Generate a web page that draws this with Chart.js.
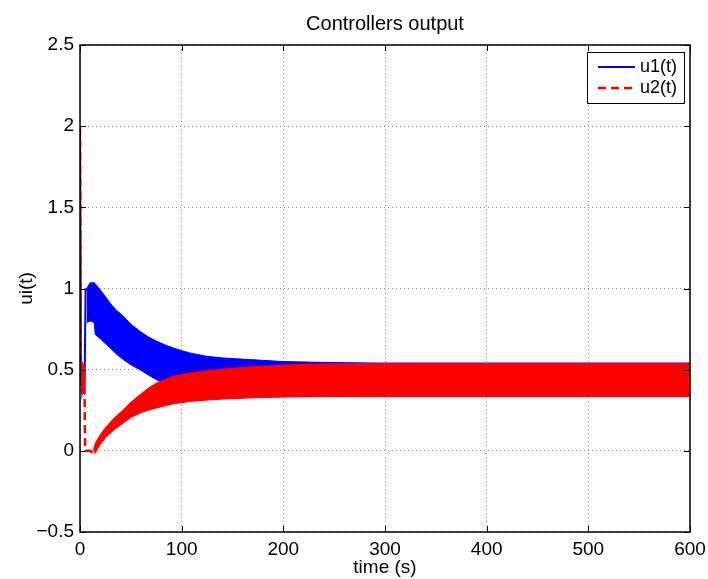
<!DOCTYPE html>
<html>
<head>
<meta charset="utf-8">
<script src="https://cdn.jsdelivr.net/npm/chart.js@4/dist/chart.umd.min.js"></script>
<style>
  html, body { margin: 0; padding: 0; background: #fff; }
</style>
</head>
<body>
<canvas id="ctrlChart" width="708" height="579"></canvas>
<script>
// Controllers output data

const xTicks = [0, 100, 200, 300, 400, 500, 600];
const yTicks = [-0.5, 0, 0.5, 1, 1.5, 2, 2.5];

// u1: start transient
const u1StartT = [0, 1, 2, 3, 4, 4.5, 5.5, 6.5];
const u1StartV = [2, 0.45, 0.37, 0.42, 0.37, 0.4, 0.99, 1.0];

// u1: oscillation band (upper / lower envelope)
const u1BandT = [6.5, 10, 14, 15, 20, 25, 29.5, 36, 42.6, 50, 59, 67, 75.4, 84, 91.8, 100, 108, 125, 141, 167, 200, 236, 300, 400, 500, 600];
const u1Upper = [1.0, 1.035, 1.035, 1.03, 0.99, 0.95, 0.91, 0.865, 0.83, 0.78, 0.736, 0.703, 0.675, 0.652, 0.634, 0.617, 0.603, 0.582, 0.572, 0.562, 0.55, 0.545, 0.54, 0.54, 0.54, 0.54];
const u1Lower = [0.79, 0.8, 0.79, 0.716, 0.69, 0.66, 0.635, 0.595, 0.562, 0.53, 0.5, 0.468, 0.438, 0.41, 0.39, 0.378, 0.37, 0.355, 0.345, 0.34, 0.338, 0.336, 0.335, 0.335, 0.335, 0.335];

// u2: start transient
const u2StartT = [0, 0.8, 4.5, 5, 10, 14, 14.5];
const u2StartV = [2, 0.54, 0.36, 0, 0, -0.02, 0.02];

const u2FirstT = [0.8, 2, 3.5, 5];
const u2FirstUp = [0.54, 0.55, 0.53, 0.52];
const u2FirstLo = [0.42, 0.37, 0.35, 0.345];

// u2: oscillation band
const u2BandT = [14, 15, 20, 26, 34, 42.6, 50, 59, 67, 75.4, 84, 91.8, 108, 125, 141, 167, 200, 236, 300, 400, 500, 600];
const u2Upper = [0.02, 0.047, 0.1, 0.15, 0.205, 0.253, 0.3, 0.346, 0.385, 0.418, 0.44, 0.459, 0.48, 0.494, 0.504, 0.517, 0.528, 0.535, 0.54, 0.54, 0.54, 0.54];
const u2Lower = [-0.02, -0.014, 0.04, 0.088, 0.132, 0.171, 0.205, 0.233, 0.25, 0.264, 0.278, 0.29, 0.304, 0.313, 0.319, 0.326, 0.331, 0.334, 0.335, 0.335, 0.335, 0.335];

const BLUE = "#0000ff";
const RED = "#ff0000";
const FONT = "'Liberation Sans', Arial, Helvetica, sans-serif";

function pts(ts, vs) {
    return ts.map((t, i) => ({ x: t, y: vs[i] }));
}

function fmtY(v) {
    if (v < 0) return "\u2212" + Math.abs(v);
    return String(v);
}

// box, inward ticks and legend like matlab
const matlabAxes = {
    id: "matlabAxes",
    afterDraw(chart) {
        const ctx = chart.ctx;
        const a = chart.chartArea;
        const xs = chart.scales.x, ys = chart.scales.y;
        ctx.save();
        ctx.strokeStyle = "#000";
        ctx.lineWidth = 1.5;
        ctx.strokeRect(a.left, a.top, a.right - a.left, a.bottom - a.top);
        ctx.lineWidth = 1;
        ctx.beginPath();
        xTicks.forEach(v => {
            const px = Math.round(xs.getPixelForValue(v)) + 0.5;
            ctx.moveTo(px, a.bottom); ctx.lineTo(px, a.bottom - 6);
            ctx.moveTo(px, a.top); ctx.lineTo(px, a.top + 6);
        });
        yTicks.forEach(v => {
            const py = Math.round(ys.getPixelForValue(v)) + 0.5;
            ctx.moveTo(a.left, py); ctx.lineTo(a.left + 6, py);
            ctx.moveTo(a.right, py); ctx.lineTo(a.right - 6, py);
        });
        ctx.stroke();

        // legend
        const lx = 587, ly = 52, lw = 97, lh = 51;
        ctx.fillStyle = "#fff";
        ctx.fillRect(lx, ly, lw, lh);
        ctx.strokeStyle = "#000";
        ctx.lineWidth = 1;
        ctx.strokeRect(lx + 0.5, ly + 0.5, lw, lh);
        ctx.lineWidth = 2;
        ctx.strokeStyle = BLUE;
        ctx.beginPath();
        ctx.moveTo(598, 67); ctx.lineTo(635, 67);
        ctx.stroke();
        ctx.strokeStyle = RED;
        ctx.lineWidth = 2.5;
        ctx.setLineDash([8, 5]);
        ctx.beginPath();
        ctx.moveTo(598, 88); ctx.lineTo(635, 88);
        ctx.stroke();
        ctx.setLineDash([]);
        ctx.fillStyle = "#000";
        ctx.font = "18px " + FONT;
        ctx.textBaseline = "middle";
        ctx.fillText("u1(t)", 640, 67);
        ctx.fillText("u2(t)", 640, 88);
        ctx.restore();
    }
};

const line = (data, color, extra) => Object.assign({
    data: data,
    borderColor: color,
    backgroundColor: color,
    borderWidth: 2,
    pointRadius: 0,
    tension: 0,
    fill: false
}, extra || {});

new Chart(document.getElementById("ctrlChart"), {
    type: "line",
    data: {
        datasets: [
            line(pts(u2BandT, u2Upper), RED, { borderWidth: 1, order: 0 }),
            line(pts(u2BandT, u2Lower), RED, { borderWidth: 1, fill: "-1", order: 0 }),
            line(pts(u2FirstT, u2FirstUp), RED, { borderWidth: 1, order: 0 }),
            line(pts(u2FirstT, u2FirstLo), RED, { borderWidth: 1, fill: "-1", order: 0 }),
            line(pts(u2StartT, u2StartV), RED, { borderWidth: 2.5, borderDash: [8, 5], order: 0 }),
            line(pts(u1BandT, u1Upper), BLUE, { borderWidth: 1, order: 1 }),
            line(pts(u1BandT, u1Lower), BLUE, { borderWidth: 1, fill: "-1", order: 1 }),
            line(pts(u1StartT, u1StartV), BLUE, { borderWidth: 2, order: 1 })
        ]
    },
    options: {
        responsive: false,
        animation: false,
        maintainAspectRatio: false,
        layout: { padding: { left: 0, right: 18, top: 0, bottom: 0 } },
        plugins: {
            legend: { display: false },
            tooltip: { enabled: false },
            title: {
                display: true,
                fullSize: false,
                text: "Controllers output",
                color: "#000",
                font: { family: FONT, size: 20, weight: "normal" },
                padding: { top: 12, bottom: 9 }
            }
        },
        scales: {
            x: {
                type: "linear",
                min: 0,
                max: 600,
                afterFit(s) { s.height = 47; s.paddingLeft = 0; s.paddingRight = 0; },
                afterBuildTicks(s) { s.ticks = xTicks.map(v => ({ value: v })); },
                ticks: {
                    color: "#000",
                    font: { family: FONT, size: 19 },
                    padding: 6,
                    maxRotation: 0,
                    autoSkip: false
                },
                grid: { color: "#888", drawTicks: false, lineWidth: 1 },
                border: { display: false, dash: [1, 3] },
                title: {
                    display: true,
                    text: "time (s)",
                    color: "#000",
                    font: { family: FONT, size: 19 },
                    padding: { top: 0, bottom: 0 }
                }
            },
            y: {
                type: "linear",
                min: -0.5,
                max: 2.5,
                afterFit(s) { s.width = 80; s.paddingTop = 0; s.paddingBottom = 0; },
                afterBuildTicks(s) { s.ticks = yTicks.map(v => ({ value: v })); },
                ticks: {
                    color: "#000",
                    font: { family: FONT, size: 19 },
                    padding: 6,
                    autoSkip: false,
                    callback: v => fmtY(v)
                },
                grid: { color: "#888", drawTicks: false, lineWidth: 1 },
                border: { display: false, dash: [1, 3] },
                title: {
                    display: true,
                    text: "ui(t)",
                    color: "#000",
                    font: { family: FONT, size: 19 },
                    padding: { top: 15, bottom: 0 }
                }
            }
        }
    },
    plugins: [matlabAxes]
});
</script>
</body>
</html>
